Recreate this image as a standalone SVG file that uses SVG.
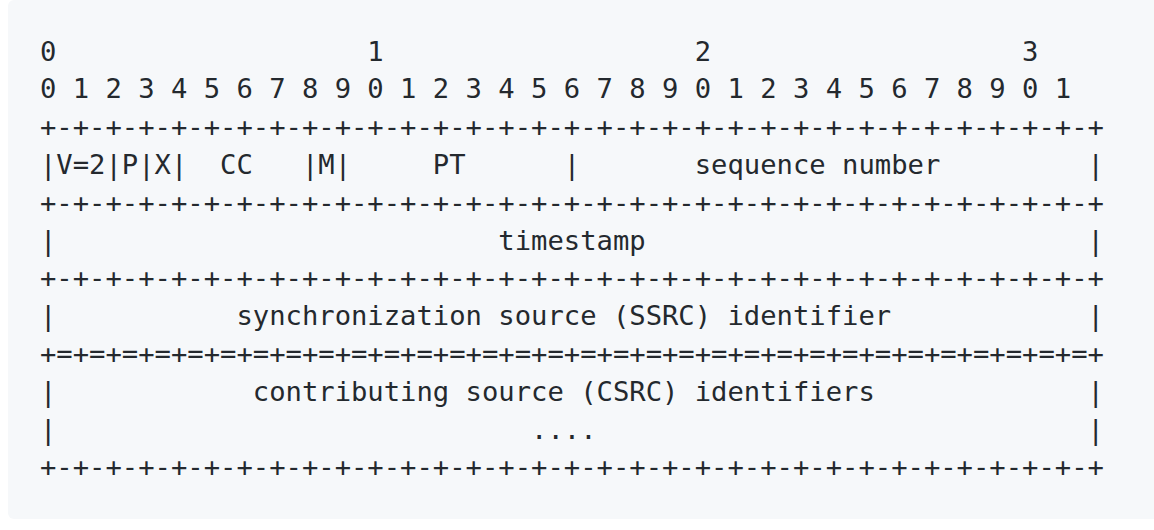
<svg xmlns="http://www.w3.org/2000/svg" width="1154" height="530" viewBox="0 0 1154 530">
<style>
.t{font-family:"DejaVu Sans Mono","Liberation Mono",monospace;font-size:27.2px;fill:#24292e;white-space:pre}
</style>
<rect x="0" y="0" width="1154" height="530" fill="#ffffff"/>
<rect id="panel" x="8" y="0" width="1170" height="519" rx="6" fill="#f6f8fa"/>
<g id="header" xml:space="preserve">
<text class="t" x="40" y="60.6">0                   1                   2                   3</text>
<text class="t" x="40" y="98.4">0 1 2 3 4 5 6 7 8 9 0 1 2 3 4 5 6 7 8 9 0 1 2 3 4 5 6 7 8 9 0 1</text>
<text class="t" x="40" y="136.2">+-+-+-+-+-+-+-+-+-+-+-+-+-+-+-+-+-+-+-+-+-+-+-+-+-+-+-+-+-+-+-+-+</text>
<text class="t" x="40" y="174.0">|V=2|P|X|  CC   |M|     PT      |       sequence number         |</text>
<text class="t" x="40" y="211.8">+-+-+-+-+-+-+-+-+-+-+-+-+-+-+-+-+-+-+-+-+-+-+-+-+-+-+-+-+-+-+-+-+</text>
<text class="t" x="40" y="249.6">|                           timestamp                           |</text>
<text class="t" x="40" y="287.4">+-+-+-+-+-+-+-+-+-+-+-+-+-+-+-+-+-+-+-+-+-+-+-+-+-+-+-+-+-+-+-+-+</text>
<text class="t" x="40" y="325.2">|           synchronization source (SSRC) identifier            |</text>
<text class="t" x="40" y="363.0">+=+=+=+=+=+=+=+=+=+=+=+=+=+=+=+=+=+=+=+=+=+=+=+=+=+=+=+=+=+=+=+=+</text>
<text class="t" x="40" y="400.8">|            contributing source (CSRC) identifiers             |</text>
<text class="t" x="40" y="438.6">|                             ....                              |</text>
<text class="t" x="40" y="476.4">+-+-+-+-+-+-+-+-+-+-+-+-+-+-+-+-+-+-+-+-+-+-+-+-+-+-+-+-+-+-+-+-+</text>
</g>
</svg>
